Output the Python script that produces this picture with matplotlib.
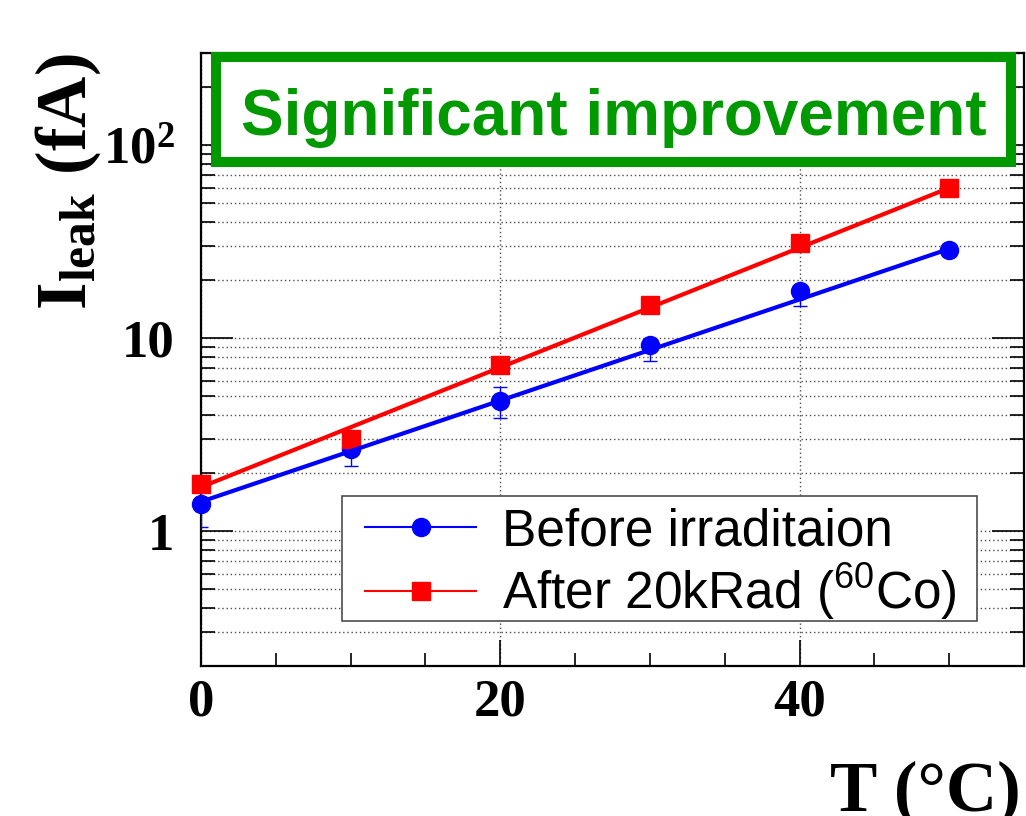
import numpy as np
import matplotlib
matplotlib.use("Agg")
from matplotlib import pyplot as plt
from matplotlib.patches import Rectangle
from matplotlib.lines import Line2D
from matplotlib.ticker import FixedLocator, LogLocator, MultipleLocator, NullFormatter

# data
temp = [0, 10, 20, 30, 40, 50]
before = [1.38, 2.65, 4.7, 9.25, 17.5, 28.7]
before_err_lo = [0.33, 0.48, 0.85, 1.66, 2.9, 2.0]
before_err_hi = [0.1, 0.2, 0.85, 0.6, 1.2, 2.0]
after = [1.75, 2.99, 7.24, 14.8, 31.0, 60.2]
after_err_lo = [0.29, 0.46, 0.6, 1.2, 2.5, 5.0]
after_err_hi = [0.1, 0.2, 0.6, 1.2, 2.5, 5.0]

# exponential fits (end points at T = 0 and 50)
fit_t = [0, 50]
before_fit = [1.42, 29.0]
after_fit = [1.69, 60.0]

labels = ["Before irraditaion", r"After 20kRad ($^{\mathsf{60}}$Co)"]
y_ticks = [1, 10, 100]
y_ticklabels = ["1", "10", r"$\mathbf{10^{2}}$"]
x_ticks = [0, 20, 40]

plt.rcParams["mathtext.fontset"] = "custom"
plt.rcParams["mathtext.rm"] = "Liberation Serif"
plt.rcParams["mathtext.bf"] = "Liberation Serif:bold"
plt.rcParams["mathtext.sf"] = "Liberation Sans"

green = "#009900"
serif = dict(family="Liberation Serif", weight="bold")

fig = plt.figure(figsize=(10.26, 8.16), dpi=100)
ax = fig.add_axes([201 / 1026, 150 / 816, 823 / 1026, 613 / 816])

ax.errorbar(temp, before, yerr=[before_err_lo, before_err_hi], fmt="none", ecolor="blue",
            elinewidth=1, capsize=5, zorder=3)
ax.errorbar(temp, after, yerr=[after_err_lo, after_err_hi], fmt="none", ecolor="red",
            elinewidth=1, capsize=5, zorder=3)
ax.plot(temp, before, "o", color="blue", markersize=13, zorder=4, clip_on=False)
ax.plot(temp, after, "s", color="red", markersize=13, zorder=5, clip_on=False)
ax.plot(fit_t, before_fit, color="blue", lw=3, zorder=6, clip_on=False)
ax.plot(fit_t, after_fit, color="red", lw=3, zorder=6, clip_on=False)

ax.set_yscale("log")
ax.set_xlim(0, 55)
ax.set_ylim(0.2, 300)

ax.yaxis.set_major_locator(FixedLocator(y_ticks))
ax.set_yticklabels(y_ticklabels, fontdict=serif, fontsize=38)
ax.yaxis.set_minor_locator(LogLocator(base=10, subs=np.arange(2, 10)))
ax.yaxis.set_minor_formatter(NullFormatter())
ax.xaxis.set_major_locator(FixedLocator(x_ticks))
ax.set_xticklabels([str(t) for t in x_ticks], fontdict=serif, fontsize=38)
ax.xaxis.set_minor_locator(MultipleLocator(5))

ax.tick_params(axis="y", which="major", direction="in", length=23, width=1.2, pad=19, right=True)
ax.tick_params(axis="y", which="minor", direction="in", length=10, width=1.2, right=True)
ax.tick_params(axis="x", which="major", direction="in", length=19, width=1.2, pad=9, top=True)
ax.tick_params(axis="x", which="minor", direction="in", length=9.5, width=1.2, top=True)
for s in ax.spines.values():
    s.set_linewidth(1.6)

ax.grid(True, axis="y", which="both", linestyle=(0, (1, 2)), color="0.3", lw=1)
ax.grid(True, axis="x", which="major", linestyle=(0, (1, 2)), color="0.3", lw=1)

ax.set_ylabel(r"$\mathbf{I_{leak}}$ (fA)", fontdict=serif, fontsize=51, loc="top")
ax.yaxis.set_label_coords(-0.119, 1.0)
fig.text(1021 / 1026, 5 / 816, "T (\u00b0C)", ha="right", va="baseline", fontdict=serif, fontsize=51)

# green box with the message
ax.add_patch(Rectangle((0.0182, 0.8214), 0.9658, 0.1721, transform=ax.transAxes,
                       facecolor="white", edgecolor=green, lw=7.2, zorder=10, clip_on=False))
ax.text(0.502, 0.866, "Significant improvement", transform=ax.transAxes, ha="center", va="baseline",
        color=green, fontsize=46, family="Liberation Sans", weight="bold", zorder=11)

# legend frame drawn separately, entries placed inside it
ax.add_patch(Rectangle((0.171, 0.0734), 0.772, 0.204, transform=ax.transAxes,
                       facecolor="white", edgecolor="0.3", lw=1.2, zorder=11))
handles = [Line2D([], [], color="blue", lw=1.5, marker="o", markersize=13),
           Line2D([], [], color="red", lw=1.5, marker="s", markersize=13)]
leg = ax.legend(handles, labels, loc="center left", bbox_to_anchor=(0.1993, 0.165),
                borderaxespad=0, borderpad=0, prop={"family": "Liberation Sans", "size": 37},
                handlelength=2.16, handletextpad=0.5, labelspacing=0.10, frameon=False)
leg.set_zorder(12)

fig.savefig("out.png", dpi=100)
